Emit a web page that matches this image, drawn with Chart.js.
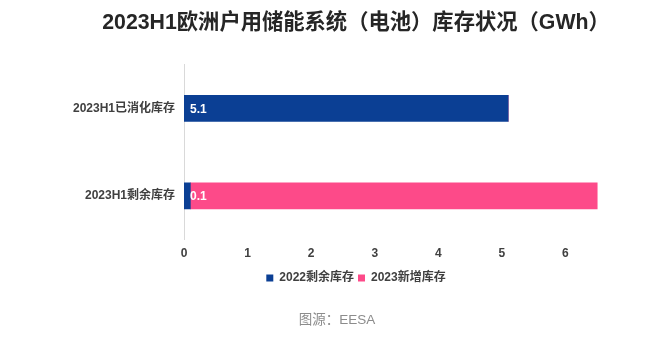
<!DOCTYPE html>
<html>
<head>
<meta charset="utf-8">
<script src="https://cdn.jsdelivr.net/npm/chart.js@4/dist/chart.umd.min.js"></script>
<style>
  html, body { margin: 0; padding: 0; background: #ffffff; }
  #wrap { width: 664px; height: 337px; }
</style>
</head>
<body>
<div id="wrap"><canvas id="c" width="664" height="337"></canvas></div>
<script>
// Inventory of European residential storage batteries, 2023H1 (GWh)
const categories = ['2023H1已消化库存', '2023H1剩余库存'];
const remaining2022 = [5.1, 0.1];
const added2023 = [0, 6.4];
const seriesNames = ['2022剩余库存', '2023新增库存'];
const xTicks = [0, 1, 2, 3, 4, 5, 6];

const FONT = '"Liberation Sans", Arial, "Noto Sans CJK SC", sans-serif';
const BLUE = '#0b3f94';
const PINK = '#fd4a89';

// White value labels at the start of the 2022 bars
const valueLabels = {
  id: 'valueLabels',
  afterDatasetsDraw(chart) {
    const ctx = chart.ctx;
    const meta = chart.getDatasetMeta(0);
    const ds = chart.data.datasets[0];
    ctx.save();
    ctx.font = 'bold 12px ' + FONT;
    ctx.fillStyle = '#ffffff';
    ctx.textAlign = 'left';
    ctx.textBaseline = 'middle';
    meta.data.forEach((bar, i) => {
      const v = ds.data[i];
      if (v === null || v === undefined) return;
      ctx.fillText(v.toFixed(1), bar.base + 6, bar.y + 1);
    });
    ctx.restore();
  }
};

// Let the long category names run left of the narrow y-axis box
const wideLabels = {
  id: 'wideLabels',
  afterLayout(chart) {
    chart.scales.y.left = 20;
  }
};

// Source line under the legend
const sourceNote = {
  id: 'sourceNote',
  afterDraw(chart) {
    const ctx = chart.ctx;
    ctx.save();
    ctx.font = '13.5px ' + FONT;
    ctx.fillStyle = '#8c8c8c';
    ctx.textAlign = 'center';
    ctx.textBaseline = 'middle';
    ctx.fillText('图源：EESA', 337, chart.height - 17);
    ctx.restore();
  }
};

new Chart(document.getElementById('c'), {
  type: 'bar',
  data: {
    labels: categories,
    datasets: [
      { label: seriesNames[0], data: remaining2022, backgroundColor: BLUE, barThickness: 26 },
      { label: seriesNames[1], data: added2023, backgroundColor: PINK, barThickness: 26 }
    ]
  },
  options: {
    indexAxis: 'y',
    responsive: false,
    animation: false,
    layout: { padding: { left: 83, right: 35, top: 0, bottom: 43 } },
    scales: {
      x: {
        stacked: true,
        min: 0,
        max: 7,
        grid: { display: false, drawTicks: false },
        border: { display: false },
        afterBuildTicks(scale) {
          scale.ticks = xTicks.map(v => ({ value: v }));
        },
        ticks: {
          padding: 7,
          color: '#404040',
          font: { family: FONT, size: 12, weight: 'bold' }
        }
      },
      y: {
        stacked: true,
        grid: { display: false, drawTicks: false },
        border: { display: true, color: '#d9d9d9', width: 1 },
        afterFit(scale) { scale.width = 101; },
        ticks: {
          padding: 9,
          color: '#404040',
          font: { family: FONT, size: 12, weight: 'bold' }
        }
      }
    },
    plugins: {
      title: {
        display: true,
        text: '2023H1欧洲户用储能系统（电池）库存状况（GWh）',
        color: '#262626',
        font: { family: FONT, size: 21.3, weight: 'bold' },
        padding: { top: 10, bottom: 29 }
      },
      legend: {
        position: 'bottom',
        labels: {
          boxWidth: 7,
          boxHeight: 7,
          padding: 4,
          color: '#404040',
          font: { family: FONT, size: 12, weight: 'bold' }
        }
      },
      tooltip: { enabled: false }
    }
  },
  plugins: [valueLabels, wideLabels, sourceNote]
});
</script>
</body>
</html>
